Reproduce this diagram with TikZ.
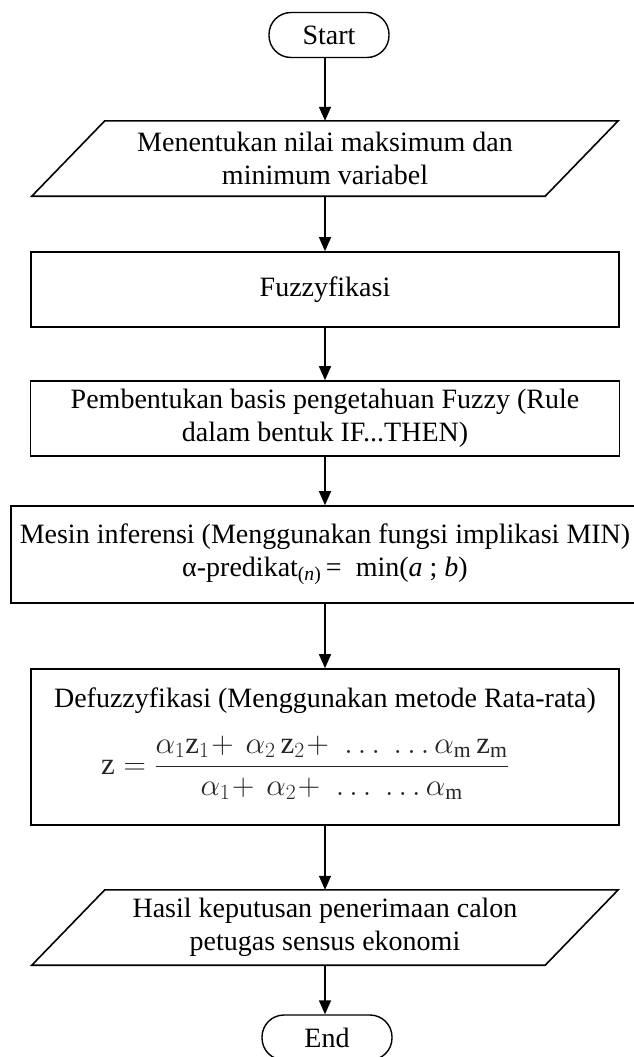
\documentclass[tikz,border=0pt]{standalone}
\usepackage{fix-cm}
\usepackage{fontspec}
\setmainfont{Liberation Serif}
\usetikzlibrary{arrows.meta}

\begin{document}
\begin{tikzpicture}[x=1pt,y=-1pt,
  every node/.style={font=\fontsize{28}{33}\selectfont, inner sep=0pt},
  terminal/.style={draw, rounded corners=22pt, minimum width=120pt, minimum height=45pt, line width=1.4pt},
  procbox/.style={draw, line width=1.6pt, align=center},
  iobox/.style={align=center, minimum width=513pt, minimum height=75pt},
  ioframe/.style={line width=1.6pt},
  flow/.style={line width=1.4pt, -{Triangle[width=12pt,length=14pt]}}
]
\useasboundingbox (0,0) rectangle (634,1057);

% terminals
\node[terminal] (start) at (329,35) {Start};
\node[terminal, minimum width=130pt] (end) at (327,1037.5) {End};

% input / output steps (parallelograms drawn around plain text nodes)
\node[iobox] (input) at (325,158.5) {Menentukan nilai maksimum dan\\minimum variabel};
\draw[ioframe] ([xshift=36.5pt]input.north west) -- ([xshift=36.5pt]input.north east)
  -- ([xshift=-36.5pt]input.south east) -- ([xshift=-36.5pt]input.south west) -- cycle;

\node[iobox] (output) at (325,927.5) {Hasil keputusan penerimaan calon\\petugas sensus ekonomi};
\draw[ioframe] ([xshift=36.5pt]output.north west) -- ([xshift=36.5pt]output.north east)
  -- ([xshift=-36.5pt]output.south east) -- ([xshift=-36.5pt]output.south west) -- cycle;

% process steps
\node[procbox, minimum width=588pt, minimum height=75pt] (fuzz) at (325,289.5) {Fuzzyfikasi};
\node[procbox, minimum width=589pt, minimum height=75pt] (rules) at (325,418.5)
  {Pembentukan basis pengetahuan Fuzzy (Rule\\dalam bentuk IF...THEN)};
\node[procbox, minimum width=628pt, minimum height=97pt] (infer) at (325,554.5)
  {Mesin inferensi (Menggunakan fungsi implikasi MIN)\\
   α-predikat\textsubscript{(\textit{n})}\,=~ min(\textit{a} ; \textit{b})};

% defuzzification box with its title and the averaging formula
\node[procbox, minimum width=588pt, minimum height=156pt] (defuzz) at (325,747) {};
\node[anchor=base] (dtitle) at (325,707)
  {Defuzzyfikasi (Menggunakan metode Rata-rata)};
\node[anchor=base, text=black!85, font=\fontsize{31}{36}\selectfont] (formula) at (305,774)
  {$\displaystyle\mathrm{z} = \frac{\alpha_1\mathrm{z}_1\!+\,\alpha_2\,\mathrm{z}_2\!+\;\ldots\;\ldots\alpha_\mathrm{m}\,\mathrm{z}_\mathrm{m}}
                      {\alpha_1\!+\,\alpha_2\!+\;\ldots\;\ldots\alpha_\mathrm{m}}$};

% connectors
\draw[flow] (start.south -| input.north) -- (input.north);
\draw[flow] (input.south) -- (fuzz);
\draw[flow] (fuzz) -- (rules);
\draw[flow] (rules) -- (infer);
\draw[flow] (infer) -- (defuzz);
\draw[flow] (defuzz) -- (output.north);
\draw[flow] (output.south) -- (output.south |- end.north);
\end{tikzpicture}
\end{document}
